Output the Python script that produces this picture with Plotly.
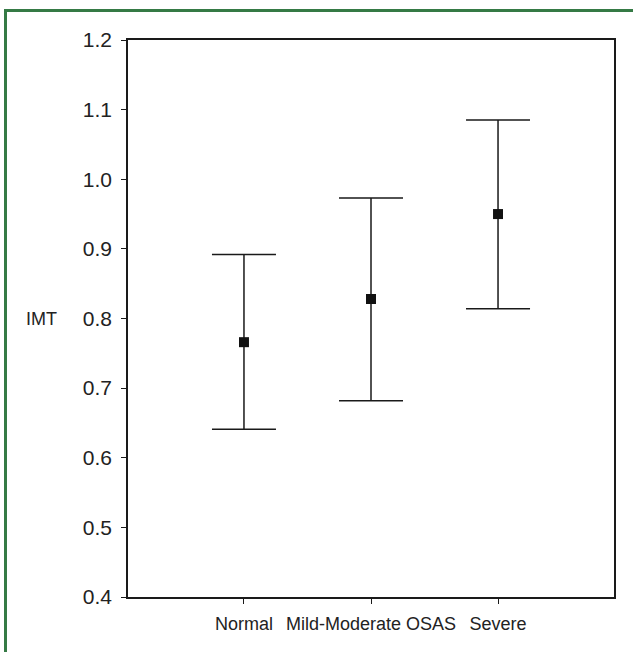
import plotly.graph_objects as go

categories = ["Normal", "Mild-Moderate OSAS", "Severe"]
means = [0.766, 0.828, 0.950]
upper = [0.892, 0.973, 1.085]
lower = [0.641, 0.682, 0.814]
y_ticks = [0.4, 0.5, 0.6, 0.7, 0.8, 0.9, 1.0, 1.1, 1.2]
y_ticktext = ["0.4", "0.5", "0.6", "0.7", "0.8", "0.9", "1.0", "1.1", "1.2"]

err_plus = [u - m for u, m in zip(upper, means)]
err_minus = [m - l for m, l in zip(means, lower)]

W, H = 633, 652
L, R, T, B = 128, 19, 40, 55
pw, ph = W - L - R, H - T - B

fig = go.Figure()
fig.add_trace(go.Scatter(
    x=categories, y=means, mode="markers",
    marker=dict(symbol="square", size=10, color="#111111"),
    error_y=dict(type="data", symmetric=False, array=err_plus, arrayminus=err_minus,
                 color="#1a1a1a", thickness=1.5, width=32),
    showlegend=False,
))

def px_x(x):
    return (x - L) / pw

def px_y(y):
    return 1 - (y - T) / ph

fig.add_shape(type="rect", xref="paper", yref="paper",
              x0=px_x(5.5), x1=px_x(700), y0=px_y(700), y1=px_y(10.5),
              line=dict(color="#357a45", width=3), fillcolor="rgba(0,0,0,0)", layer="below")

fig.add_annotation(text="IMT", xref="paper", yref="y", x=px_x(41), y=0.8,
                   showarrow=False, font=dict(family="Liberation Sans, Arial", size=18, color="#222222"),
                   xanchor="center", yanchor="middle")

fig.update_layout(
    width=W, height=H,
    margin=dict(l=L, r=R, t=T, b=B, pad=0),
    paper_bgcolor="white", plot_bgcolor="white",
    font=dict(family="Liberation Sans, Arial", color="#222222"),
    xaxis=dict(type="category", range=[-0.913, 2.913], showgrid=False, zeroline=False,
               showline=True, linecolor="#1a1a1a", linewidth=1.5, mirror=True,
               ticks="outside", ticklen=5, tickwidth=1.2, tickcolor="#1a1a1a",
               ticklabelstandoff=5,
               tickfont=dict(size=18), fixedrange=True),
    yaxis=dict(range=[0.4, 1.2], tickvals=y_ticks, ticktext=y_ticktext, showgrid=False,
               zeroline=False, showline=True, linecolor="#1a1a1a", linewidth=1.5, mirror=True,
               ticks="outside", ticklen=5, tickwidth=1.2, tickcolor="#1a1a1a",
               ticklabelstandoff=5,
               tickfont=dict(size=21), fixedrange=True),
)

fig.write_html("out.html", config={"displayModeBar": False},
               post_script="document.body.style.margin='0';")
